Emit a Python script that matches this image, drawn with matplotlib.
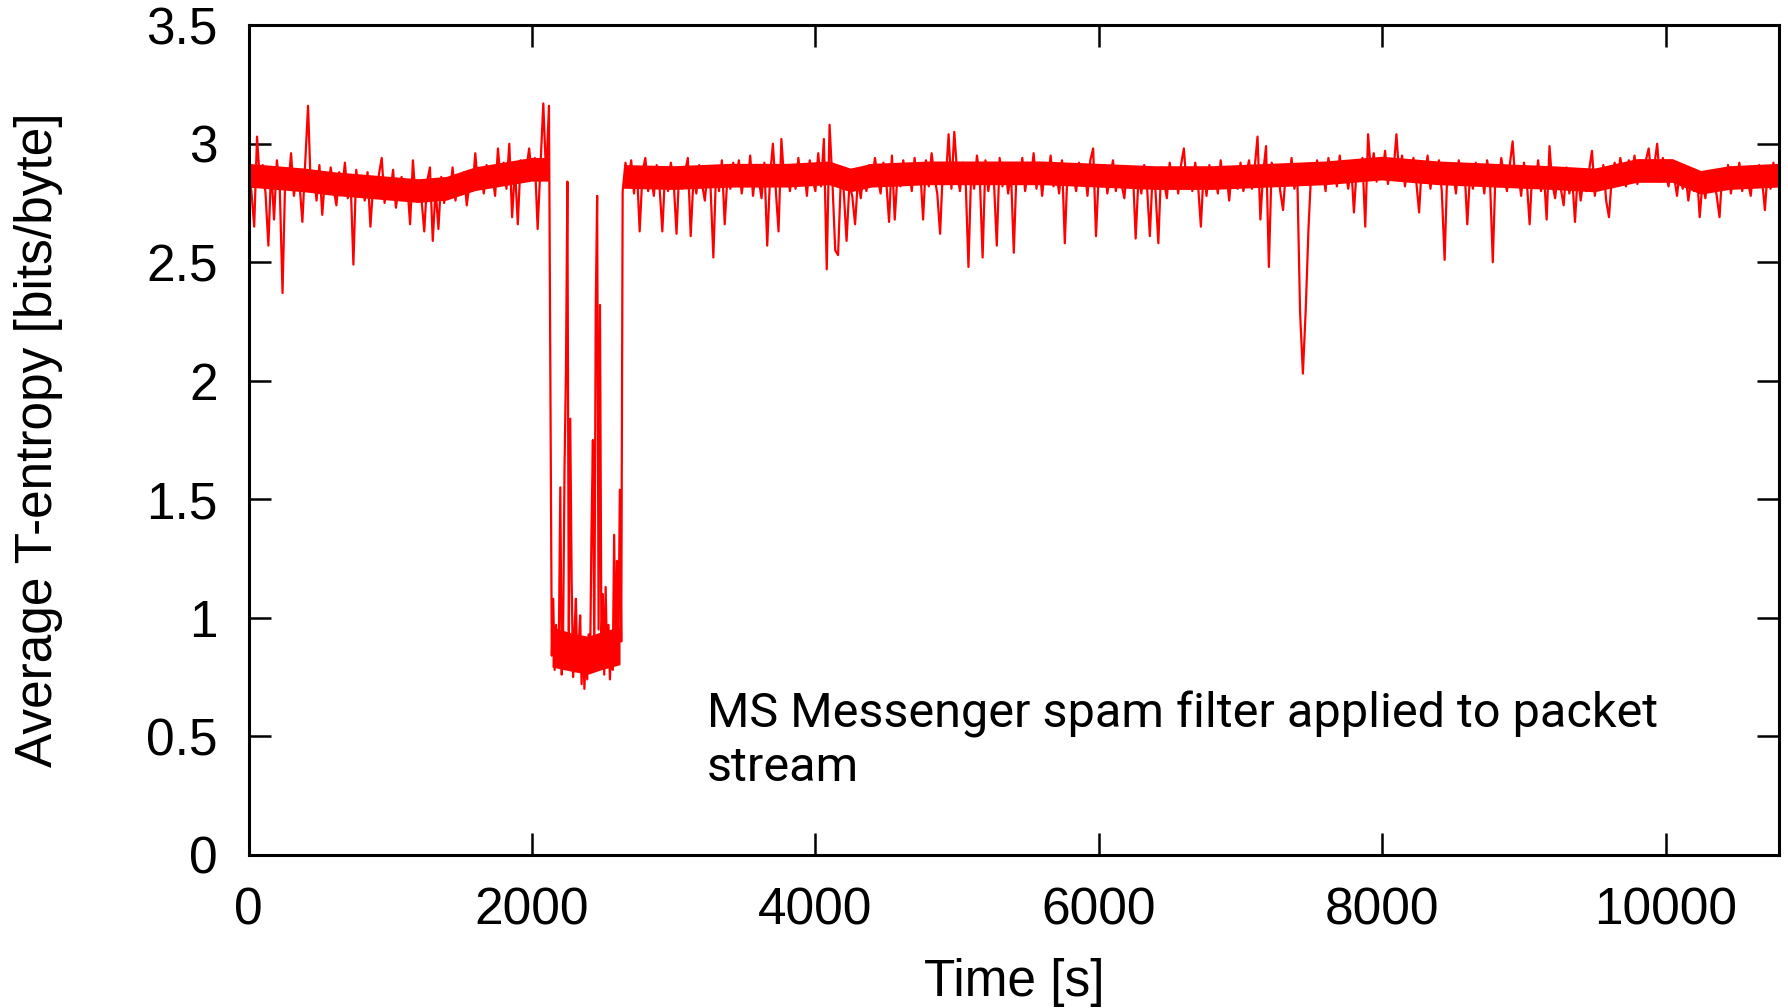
import numpy as np
import matplotlib
matplotlib.use('Agg')
import matplotlib.pyplot as plt

# T-entropy trace, three stretches
# before the spam filter kicks in: t = 0 .. 2120 s, every 20 s
t_start_pre = 0
t_step_pre = 20
entropy_pre = [
    2.88, 2.80, 2.65, 3.03, 2.84, 2.91, 2.79, 2.57, 2.90, 2.68, 2.93, 2.82, 2.37, 2.89, 2.81, 2.96, 2.78, 2.87, 2.83, 2.67,
    2.92, 3.16, 2.80, 2.88, 2.76, 2.91, 2.70, 2.86, 2.79, 2.90, 2.81, 2.74, 2.88, 2.80, 2.92, 2.77, 2.85, 2.49, 2.89, 2.78,
    2.85, 2.76, 2.88, 2.65, 2.83, 2.78, 2.87, 2.94, 2.75, 2.84, 2.79, 2.89, 2.73, 2.82, 2.86, 2.77, 2.83, 2.66, 2.93, 2.76,
    2.83, 2.77, 2.63, 2.84, 2.90, 2.59, 2.81, 2.64, 2.86, 2.75, 2.82, 2.78, 2.90, 2.76, 2.85, 2.79, 2.88, 2.74, 2.84, 2.80,
    2.96, 2.82, 2.88, 2.79, 2.91, 2.83, 2.87, 2.78, 2.98, 2.84, 2.92, 2.81, 3.00, 2.69, 2.90, 2.66, 2.93, 2.85, 2.89, 2.98,
    2.86, 2.94, 2.64, 2.91, 3.17, 2.86, 3.16,
]

# filtered stretch: t = 2140 .. 2630 s, every 10 s
t_start_drop = 2140
t_step_drop = 10
entropy_drop = [
    0.84, 1.08, 0.78, 0.97, 0.80, 0.92, 1.55, 0.76, 0.95, 1.64,
    2.05, 2.84, 0.90, 1.84, 1.16, 0.75, 0.94, 1.08, 0.78, 0.88,
    1.01, 0.72, 0.92, 0.70, 0.86, 0.74, 0.93, 0.79, 1.36, 1.75,
    0.85, 2.30, 2.78, 0.95, 2.32, 0.88, 1.10, 0.76, 1.13, 0.82,
    0.97, 0.74, 0.91, 0.78, 1.35, 0.80, 1.24, 0.86, 1.54, 0.90,
]

# after: t = 2640 .. 10800 s, every 20 s
t_start_post = 2640
t_step_post = 20
entropy_post = [
    2.80, 2.92, 2.83, 2.93, 2.79, 2.90, 2.63, 2.88, 2.94, 2.80, 2.87, 2.78, 2.91, 2.82, 2.63, 2.89, 2.80, 2.92, 2.84, 2.62,
    2.90, 2.81, 2.88, 2.94, 2.61, 2.86, 2.79, 2.91, 2.83, 2.76, 2.89, 2.82, 2.52, 2.90, 2.80, 2.93, 2.66, 2.87, 2.81, 2.92,
    2.84, 2.93, 2.79, 2.88, 2.82, 2.95, 2.78, 2.90, 2.85, 2.77, 2.92, 2.57, 2.86, 3.00, 2.81, 2.63, 3.02, 2.84, 2.91, 2.80,
    2.89, 2.81, 2.94, 2.83, 2.90, 2.78, 2.93, 2.85, 2.80, 2.96, 2.82, 3.02, 2.47, 3.08, 2.84, 2.55, 2.53, 2.86, 2.80, 2.59,
    2.83, 2.78, 2.66, 2.85, 2.77, 2.88, 2.80, 2.91, 2.83, 2.94, 2.86, 2.79, 2.92, 2.84, 2.67, 2.95, 2.68, 2.88, 2.82, 2.93,
    2.85, 2.91, 2.80, 2.94, 2.83, 2.89, 2.68, 2.93, 2.82, 2.96, 2.86, 2.79, 2.62, 2.90, 2.84, 3.04, 2.81, 3.05, 2.88, 2.80,
    2.92, 2.85, 2.48, 2.90, 2.81, 2.95, 2.86, 2.52, 2.93, 2.80, 2.89, 2.84, 2.57, 2.94, 2.82, 2.91, 2.79, 2.88, 2.54, 2.90,
    2.83, 2.94, 2.80, 2.89, 2.85, 2.96, 2.81, 2.92, 2.78, 2.90, 2.84, 2.95, 2.82, 2.88, 2.79, 2.93, 2.58, 2.91, 2.83, 2.87,
    2.80, 2.92, 2.84, 2.89, 2.78, 2.93, 2.98, 2.61, 2.88, 2.82, 2.91, 2.79, 2.86, 2.93, 2.80, 2.89, 2.83, 2.77, 2.90, 2.84,
    2.89, 2.60, 2.86, 2.79, 2.91, 2.82, 2.61, 2.88, 2.80, 2.58, 2.90, 2.84, 2.77, 2.92, 2.83, 2.88, 2.79, 2.91, 2.98, 2.82,
    2.88, 2.80, 2.92, 2.83, 2.65, 2.89, 2.78, 2.91, 2.84, 2.87, 2.79, 2.93, 2.82, 2.88, 2.76, 2.90, 2.85, 2.81, 2.92, 2.80,
    2.87, 2.93, 2.81, 2.90, 3.03, 2.68, 2.88, 2.99, 2.48, 2.92, 2.84, 2.91, 2.80, 2.72, 2.89, 2.83, 2.94, 2.81, 2.88, 2.29,
    2.03, 2.30, 2.65, 2.90, 2.83, 2.93, 2.85, 2.89, 2.80, 2.94, 2.86, 2.91, 2.82, 2.95, 2.84, 2.89, 2.81, 2.92, 2.71, 2.90,
    2.85, 2.94, 2.65, 3.04, 2.88, 2.96, 2.84, 2.92, 2.87, 2.97, 2.83, 2.93, 2.89, 3.04, 2.86, 2.95, 2.82, 2.91, 2.88, 2.94,
    2.84, 2.71, 2.92, 2.86, 2.95, 2.81, 2.90, 2.85, 2.93, 2.80, 2.51, 2.91, 2.84, 2.88, 2.79, 2.93, 2.83, 2.90, 2.66, 2.88,
    2.81, 2.92, 2.84, 2.89, 2.79, 2.93, 2.85, 2.50, 2.90, 2.82, 2.94, 2.86, 2.80, 2.91, 3.01, 2.83, 2.88, 2.78, 2.92, 2.84,
    2.66, 2.90, 2.82, 2.93, 2.80, 2.88, 2.68, 2.99, 2.83, 2.77, 2.89, 2.81, 2.74, 2.90, 2.79, 2.86, 2.67, 2.88, 2.76, 2.85,
    2.80, 2.89, 2.97, 2.78, 2.87, 2.81, 2.91, 2.76, 2.69, 2.86, 2.92, 2.84, 2.94, 2.87, 2.82, 2.93, 2.86, 2.95, 2.83, 2.90,
    2.85, 2.93, 2.98, 2.86, 2.91, 3.00, 2.84, 2.94, 2.88, 2.82, 2.92, 2.86, 2.78, 2.89, 2.81, 2.87, 2.76, 2.85, 2.80, 2.88,
    2.69, 2.84, 2.77, 2.88, 2.80, 2.86, 2.78, 2.69, 2.89, 2.82, 2.91, 2.79, 2.87, 2.83, 2.92, 2.80, 2.88, 2.84, 2.78, 2.90,
    2.83, 2.91, 2.85, 2.72, 2.89, 2.81, 2.92, 2.84, 2.87,
]

# dense core of the noisy band (the solid red strip), nan = break
band_t = [0, 200, 400, 600, 800, 1000, 1200, 1400, 1600, 1800, 2000, 2125,
          2130,
          2145, 2300, 2400, 2500, 2625,
          2635,
          2650, 3000, 3400, 3800, 4100, 4250, 4400, 4800, 5200, 5600, 6000,
          6400, 6800, 7200, 7600, 8000, 8400, 8800, 9200, 9500, 9800, 10050,
          10250, 10450, 10800]
band_lo = [2.815, 2.805, 2.795, 2.78, 2.77, 2.76, 2.75, 2.76, 2.80, 2.82, 2.84, 2.84,
           np.nan,
           0.79, 0.77, 0.76, 0.78, 0.80,
           np.nan,
           2.81, 2.805, 2.815, 2.815, 2.825, 2.795, 2.815, 2.825, 2.825, 2.825, 2.815,
           2.805, 2.805, 2.815, 2.825, 2.845, 2.825, 2.815, 2.805, 2.795, 2.835, 2.835,
           2.785, 2.805, 2.815]
band_hi = [2.915, 2.905, 2.895, 2.88, 2.87, 2.86, 2.85, 2.86, 2.90, 2.92, 2.94, 2.94,
           np.nan,
           0.96, 0.93, 0.92, 0.94, 0.96,
           np.nan,
           2.91, 2.905, 2.915, 2.915, 2.925, 2.895, 2.915, 2.925, 2.925, 2.925, 2.915,
           2.905, 2.905, 2.915, 2.925, 2.945, 2.925, 2.915, 2.905, 2.895, 2.935, 2.935,
           2.885, 2.905, 2.915]

x_ticks = [0, 2000, 4000, 6000, 8000, 10000]
y_ticks = [0, 0.5, 1, 1.5, 2, 2.5, 3, 3.5]
y_ticklabels = ['0', '0.5', '1', '1.5', '2', '2.5', '3', '3.5']
note = 'MS Messenger spam filter applied to packet\nstream'

# sample times
t_pre = t_start_pre + t_step_pre * np.arange(len(entropy_pre))
t_drop = t_start_drop + t_step_drop * np.arange(len(entropy_drop))
t_post = t_start_post + t_step_post * np.arange(len(entropy_post))
t_all = np.concatenate([t_pre, t_drop, t_post])
e_all = np.concatenate([entropy_pre, entropy_drop, entropy_post])

plt.rcParams['font.family'] = ['Liberation Sans', 'DejaVu Sans']

fig = plt.figure(figsize=(17.88, 10.08), dpi=100)
ax = fig.add_axes([0.139, 0.152, 0.856, 0.823])

ax.fill_between(band_t, band_lo, band_hi, color='#ff0000', linewidth=0)
ax.plot(t_all, e_all, '-', color='#ff0000', linewidth=1.6)

ax.set_xlim(0, 10800)
ax.set_ylim(0, 3.5)
ax.set_xticks(x_ticks)
ax.set_xticklabels([str(v) for v in x_ticks])
ax.set_yticks(y_ticks)
ax.set_yticklabels(y_ticklabels)

ax.tick_params(direction='in', length=16, width=1.8, labelsize=37,
               top=True, right=True)
ax.tick_params(axis='y', pad=22)
ax.tick_params(axis='x', pad=23)
for s in ax.spines.values():
    s.set_linewidth(2.2)

ax.set_xlabel('Time [s]', fontsize=37)
ax.set_ylabel('Average T-entropy [bits/byte]', fontsize=37)
ax.xaxis.set_label_coords(0.50, -0.124)
ax.yaxis.set_label_coords(-0.121, 0.5)

ax.text(0.2996, 0.198, note, transform=ax.transAxes, ha='left', va='top',
        fontsize=35, family=['Roboto', 'DejaVu Sans'],
        linespacing=1.2)

fig.savefig('out.png', dpi=100)
plt.close(fig)
